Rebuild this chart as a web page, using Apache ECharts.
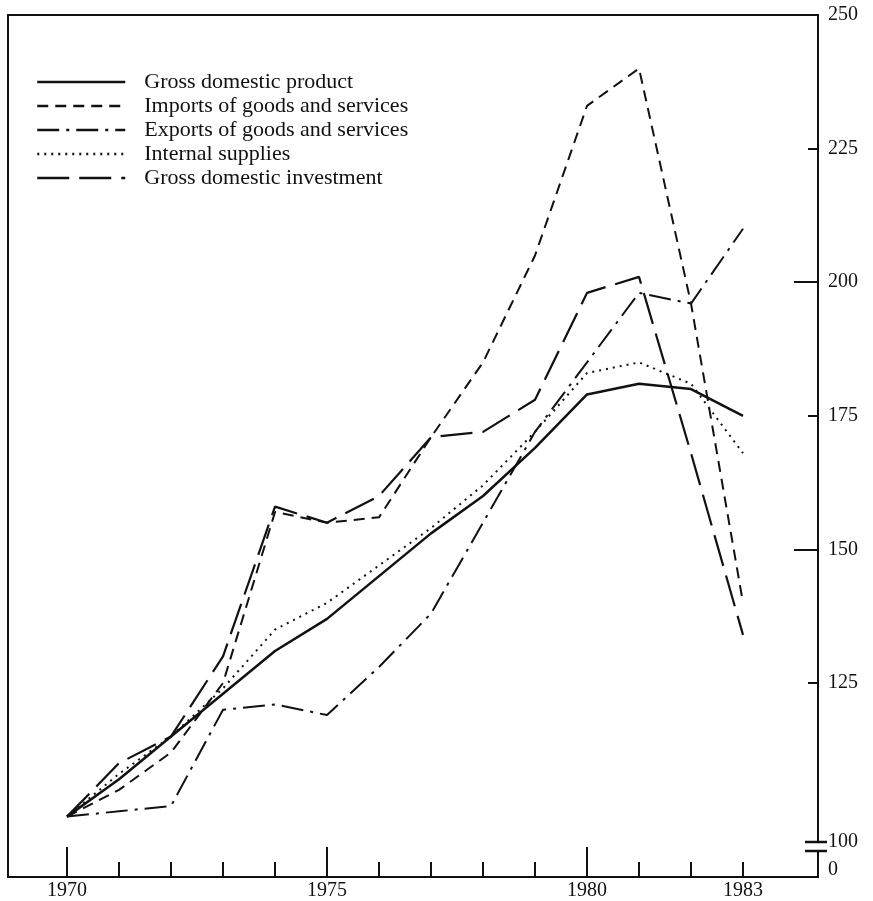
<!DOCTYPE html>
<html><head><meta charset="utf-8">
<script src="https://cdn.jsdelivr.net/npm/echarts@6/dist/echarts.min.js"></script>
<style>html,body{margin:0;padding:0;background:#fff}#c{width:873px;height:901px}</style>
</head><body><div id="c"></div>
<script>
const years = [1970,1971,1972,1973,1974,1975,1976,1977,1978,1979,1980,1981,1982,1983];
const gdp        = [100,107,115,123,131,137,145,153,160,169,179,181,180,175];
const imports    = [100,105,112,125,157,155,156,171,185,205,233,240,196,140];
const exportsS   = [100,101,102,120,121,119,128,138,155,172,185,198,196,210];
const internal   = [100,108,115,124,135,140,147,154,162,172,183,185,181,168];
const investment = [100,110,115,130,158,155,160,171,172,178,198,201,168,134];
const xLabelYears = [1970,1975,1980,1983];
const xMajorTicks = [1970,1975,1980];
const yLabels = [125,150,175,200,225,250];
const yShortTicks = [125,175,225];
const yLongTicks = [150,200];
const names = ['Gross domestic product','Imports of goods and services','Exports of goods and services','Internal supplies','Gross domestic investment'];

const FONT = 'Liberation Serif';
const INK = '#111';
const X_MIN = 1968.865, X_MAX = 1984.442;
const Y_MIN = 88.7, Y_MAX = 250;
const Y_100 = 95.25, Y_0 = 90.0; // positions of the broken-axis labels

const pairs = arr => years.map((y,i)=>[y,arr[i]]);
const mk = (name, arr, type, width) => ({
  name, type:'line', data: pairs(arr), symbol:'none', symbolSize:0, xAxisIndex:0, yAxisIndex:0,
  lineStyle:{color:INK, width: width||2, type: type}, itemStyle:{color:INK},
  emphasis:{disabled:true}, animation:false
});

const chart = echarts.init(document.getElementById('c'));
chart.setOption({
  animation:false,
  backgroundColor:'#fff',
  grid:{left:8, right:55, top:15, bottom:24, show:true, borderColor:INK, borderWidth:2, backgroundColor:'transparent'},
  legend:{
    orient:'vertical', left:36, top:71, padding:0, itemWidth:88, itemHeight:12, itemGap:2,
    data:names, selectedMode:false,
    itemStyle:{opacity:0},
    lineStyle:{width:2.5},
    textStyle:{fontFamily:FONT, fontSize:22, color:INK, padding:[0,0,0,14], lineHeight:20}
  },
  xAxis:[{
    type:'value', min:X_MIN, max:X_MAX, position:'bottom',
    axisLine:{show:true, onZero:false, lineStyle:{color:INK, width:2}},
    splitLine:{show:false},
    axisTick:{show:true, inside:true, length:15, customValues:years, lineStyle:{color:INK, width:2}},
    axisLabel:{customValues:xLabelYears, formatter:v=>String(Math.round(v)), fontFamily:FONT, fontSize:20, color:INK, margin:4}
  },{
    type:'value', min:X_MIN, max:X_MAX, position:'bottom',
    axisLine:{show:false}, splitLine:{show:false}, axisLabel:{show:false},
    axisTick:{show:true, inside:true, length:30, customValues:xMajorTicks, lineStyle:{color:INK, width:2}}
  }],
  yAxis:[{
    type:'value', min:Y_MIN, max:Y_MAX, position:'right',
    axisLine:{show:true, onZero:false, lineStyle:{color:INK, width:2}},
    splitLine:{show:false},
    axisTick:{show:true, inside:true, length:10, customValues:yShortTicks, lineStyle:{color:INK, width:2}},
    axisLabel:{customValues:[Y_0, Y_100].concat(yLabels),
      formatter:v=> v < 92 ? '0' : (v < 100 ? '100' : String(v)),
      fontFamily:FONT, fontSize:20, color:INK, margin:10}
  },{
    type:'value', min:Y_MIN, max:Y_MAX, position:'right',
    axisLine:{show:false}, splitLine:{show:false}, axisLabel:{show:false},
    axisTick:{show:true, inside:true, length:24, customValues:yLongTicks, lineStyle:{color:INK, width:2}}
  }],
  graphic:[
    {type:'rect', shape:{x:810, y:843, width:14, height:7}, style:{fill:'#fff'}, z:100},
    {type:'line', shape:{x1:805, y1:842, x2:827, y2:842}, style:{stroke:INK, lineWidth:2.5}, z:101},
    {type:'line', shape:{x1:805, y1:851, x2:827, y2:851}, style:{stroke:INK, lineWidth:2.5}, z:101}
  ],
  series:[
    mk(names[0], gdp, 'solid', 2.5),
    mk(names[1], imports, [11,7], 2),
    mk(names[2], exportsS, [22,7,3,7], 2),
    mk(names[3], internal, [2,5], 2),
    mk(names[4], investment, [32,10], 2.2)
  ]
});
</script></body></html>
